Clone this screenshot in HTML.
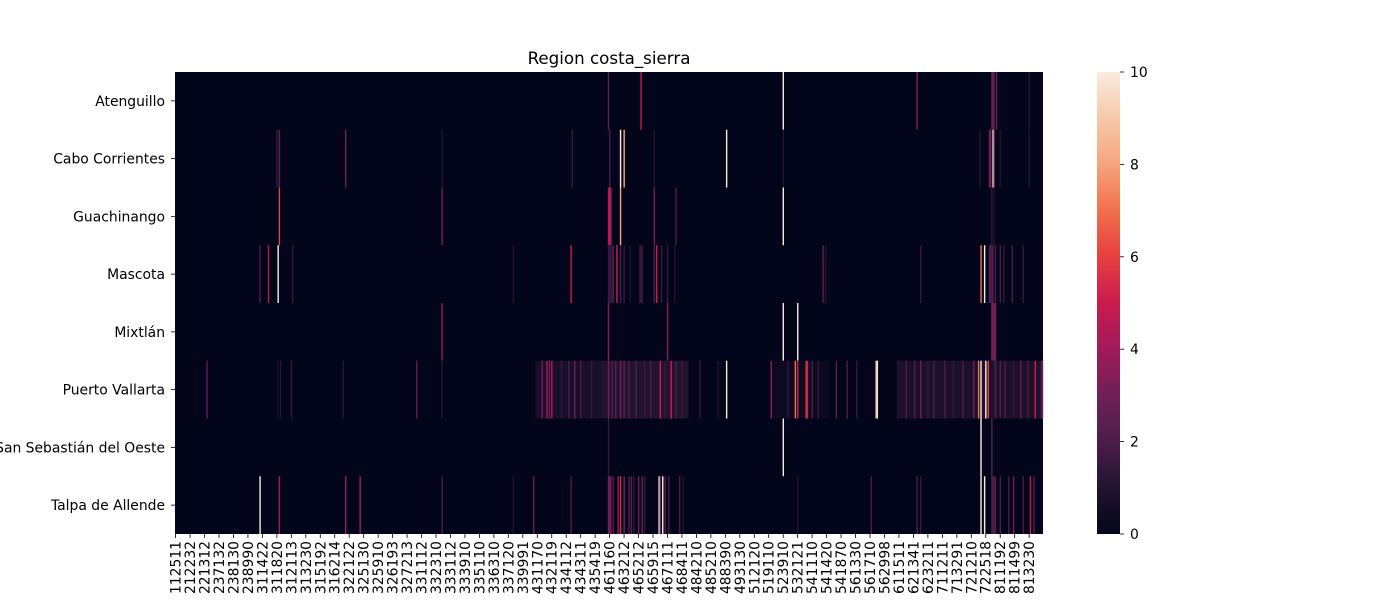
<!DOCTYPE html>
<html><head><meta charset="utf-8"><style>
body{margin:0;background:#fff;}
svg{display:block;font-family:"DejaVu Sans","Liberation Sans",sans-serif;}
</style></head><body>
<svg id="chart" width="1400" height="600" viewBox="0 0 1400 600" xmlns="http://www.w3.org/2000/svg">
<text x="609" y="64" font-size="16.7" text-anchor="middle">Region costa_sierra</text>
<g id="cells"></g>
<g id="ylab"></g>
<g id="xlab"></g>
<g id="cbar"></g>
</svg>
<script>
const rows = ["Atenguillo","Cabo Corrientes","Guachinango","Mascota","Mixtlán","Puerto Vallarta","San Sebastián del Oeste","Talpa de Allende"];
const nCols = 720;
const xTickLabels = ["112511","212232","221312","237132","238130","238990","311422","311820","312113","313230","315192","316214","322122","325130","325910","326193","327213","331112","332310","333112","333910","335110","336310","337120","339991","431170","432119","434112","434311","435419","461160","463212","465212","465915","467111","468411","484210","485210","488390","493130","512120","519110","523910","532121","541110","541420","541870","561330","561710","562998","611511","621341","623211","711211","713291","721210","722518","811192","811499","813230"];
const cbTicks = [0,2,4,6,8,10];
// sparse values: [column, value]
const vAtenguillo = [[359,2.5],[386,5],[504,10],[615,3.5],[677,2.5],[678,3],[679,2],[681,2.5],[708,1]];
const vCabo = [[84,1.5],[86,2.5],[141,3],[221,1],[329,1.5],[360,2],[369,10],[372,8],[397,1],[457,10],[504,1],[667,1],[675,3],[676,3],[678,10],[679,3],[684,1],[708,1]];
const vGuachinango = [[86,6],[221,3],[359,4.5],[360,4.5],[361,4],[369,8],[397,3],[415,2],[504,10],[677,1.5],[679,1]];
const vMascota = [[70,2],[77,4.5],[85,10],[97,1.5],[280,1],[328,5],[359,1.5],[360,1.5],[361,1.5],[362,1.5],[363,2],[366,5],[369,2],[372,1.5],[377,1],[385,1.5],[386,1.5],[387,1.5],[397,2],[399,5],[403,1.5],[408,1.5],[414,1],[537,2.5],[539,1],[618,1.5],[668,7],[671,10],[675,2],[676,2],[677,2],[678,2],[680,2],[684,2],[687,1.5],[694,2],[703,1.5]];
const vMixtlan = [[221,3.5],[359,3.5],[408,3.5],[504,10],[516,10],[677,3],[678,3],[679,3],[680,3]];
// Puerto Vallarta: background ranges [startCol, endCol, value] then spikes
const pvRanges = [[299,353,0.7],[353,426,1.0],[494,543,0.3],[599,720,0.8]];
const vPuerto = [[26,2.5],[85,0.8],[87,1.2],[96,1.5],[139,1.2],[200,2.5],[221,1.2],[304,3],[308,4],[310,3],[312,4.5],[320,1.5],[326,2],[331,3],[336,2],[345,1.5],[359,3],[362,2],[365,2.5],[369,3],[372,2.5],[376,2],[382,2],[389,1.5],[394,2],[402,5],[406,1.5],[411,5],[415,2],[420,1.5],[435,1.5],[450,1],[457,10],[494,3.5],[508,1.5],[514,7],[516,5],[523,6],[524,5],[528,2],[533,1.5],[548,2.5],[557,2],[565,1.5],[581,9],[582,10],[599,1],[606,2],[613,2],[618,3],[624,1.5],[629,2],[638,2],[645,1.5],[653,2],[662,3],[666,7],[668,10],[672,10],[674,6],[680,2.5],[684,2],[688,2],[695,1.5],[701,2.5],[707,2],[713,5],[718,2],[719,3]];
const vSanSebastian = [[359,1.5],[504,10],[668,10],[677,2.5]];
const vTalpa = [[70,10],[86,4],[141,4],[153,4],[221,2],[280,1],[297,3],[328,2],[359,3],[360,3],[361,3],[363,2],[367,4],[369,5.5],[372,3],[376,2],[378,2.5],[380,1.5],[384,3],[387,3],[389,1.5],[401,10],[402,3],[404,10],[406,2],[409,2],[418,2],[421,1],[516,1],[577,2],[615,2],[618,1.5],[668,10],[671,10],[677,2],[678,2],[679,2],[680,2],[684,2],[691,2],[695,3],[703,2],[709,5],[712,2]];
const rowData = [vAtenguillo,vCabo,vGuachinango,vMascota,vMixtlan,vPuerto,vSanSebastian,vTalpa];

const X0=175, X1=1043, Y0=72, Y1=534, vmax=10;
const cw=(X1-X0)/nCols, rh=(Y1-Y0)/rows.length;
const xOf=c=>X0+c*cw, yOf=r=>Y0+r*rh;
const stops=[[0,"#03051a"],[0.1,"#221331"],[0.2,"#4c1d4b"],[0.3,"#701f57"],[0.4,"#a11a5b"],[0.5,"#cb1b4f"],[0.6,"#e83f3f"],[0.7,"#f1704c"],[0.8,"#f6a47c"],[0.9,"#f7c9aa"],[1,"#faebdd"]];
function hex(h){return [1,3,5].map(i=>parseInt(h.substr(i,2),16));}
function cmap(v){let t=Math.max(0,Math.min(1,v/vmax));for(let i=1;i<stops.length;i++){if(t<=stops[i][0]){const a=stops[i-1],b=stops[i];const f=(t-a[0])/(b[0]-a[0]);const A=hex(a[1]),B=hex(b[1]);return "rgb("+A.map((x,k)=>Math.round(x+(B[k]-x)*f)).join(",")+")";}}return stops[stops.length-1][1];}
const NS="http://www.w3.org/2000/svg";
function mk(tag,attrs,parent){const e=document.createElementNS(NS,tag);for(const k in attrs)e.setAttribute(k,attrs[k]);parent.appendChild(e);return e;}
const cells=document.getElementById('cells');
const bg=mk('rect',{x:X0,y:Y0,width:X1-X0,height:Y1-Y0,fill:cmap(0)},cells);


rowData.forEach((arr,r)=>{
  if(r===5){pvRanges.forEach(([s,e,v])=>{const el=mk('rect',{x:xOf(s),y:yOf(r),width:(e-s)*cw,height:rh,fill:cmap(v)},cells);
    
    });}
  arr.forEach(([c,v])=>{const el=mk('rect',{x:xOf(c),y:yOf(r),width:cw+0.2,height:rh,fill:cmap(v)},cells);
    
    });
});
const ylab=document.getElementById('ylab');
rows.forEach((n,r)=>{const cy=yOf(r)+rh/2;
  const t=mk('line',{x1:X0-4,x2:X0,y1:cy,y2:cy,stroke:"#000","stroke-width":0.8},ylab);
  
  
  const l=mk('text',{x:X0-10,y:cy+5,"font-size":13.9,"text-anchor":"end"},ylab);l.textContent=n;
  
  });
const xlab=document.getElementById('xlab');
const step=nCols/xTickLabels.length;
xTickLabels.forEach((n,i)=>{const cx=xOf(i*step+0.5);
  const t=mk('line',{x1:cx,x2:cx,y1:Y1,y2:Y1+4,stroke:"#000","stroke-width":0.8},xlab);
  
  
  const l=mk('text',{x:0,y:0,"font-size":13.9,"text-anchor":"end",transform:`translate(${cx+5},${Y1+7}) rotate(-90)`},xlab);l.textContent=n;
  
  });
const cb=document.getElementById('cbar');
const CX=1097,CW=23;
const defs=mk('defs',{},cb);const g=mk('linearGradient',{id:'cg',x1:0,y1:1,x2:0,y2:0},defs);
stops.forEach(([o,c])=>mk('stop',{offset:o,'stop-color':c},g));
const cr=mk('rect',{x:CX,y:Y0,width:CW,height:Y1-Y0,fill:"url(#cg)"},cb);


cbTicks.forEach(v=>{const y=Y1-(v/vmax)*(Y1-Y0);
  const t=mk('line',{x1:CX+CW,x2:CX+CW+4,y1:y,y2:y,stroke:"#000","stroke-width":0.8},cb);
  
  
  const l=mk('text',{x:CX+CW+10,y:y+5,"font-size":13.9},cb);l.textContent=v;
  
  });
</script>
</body></html>
